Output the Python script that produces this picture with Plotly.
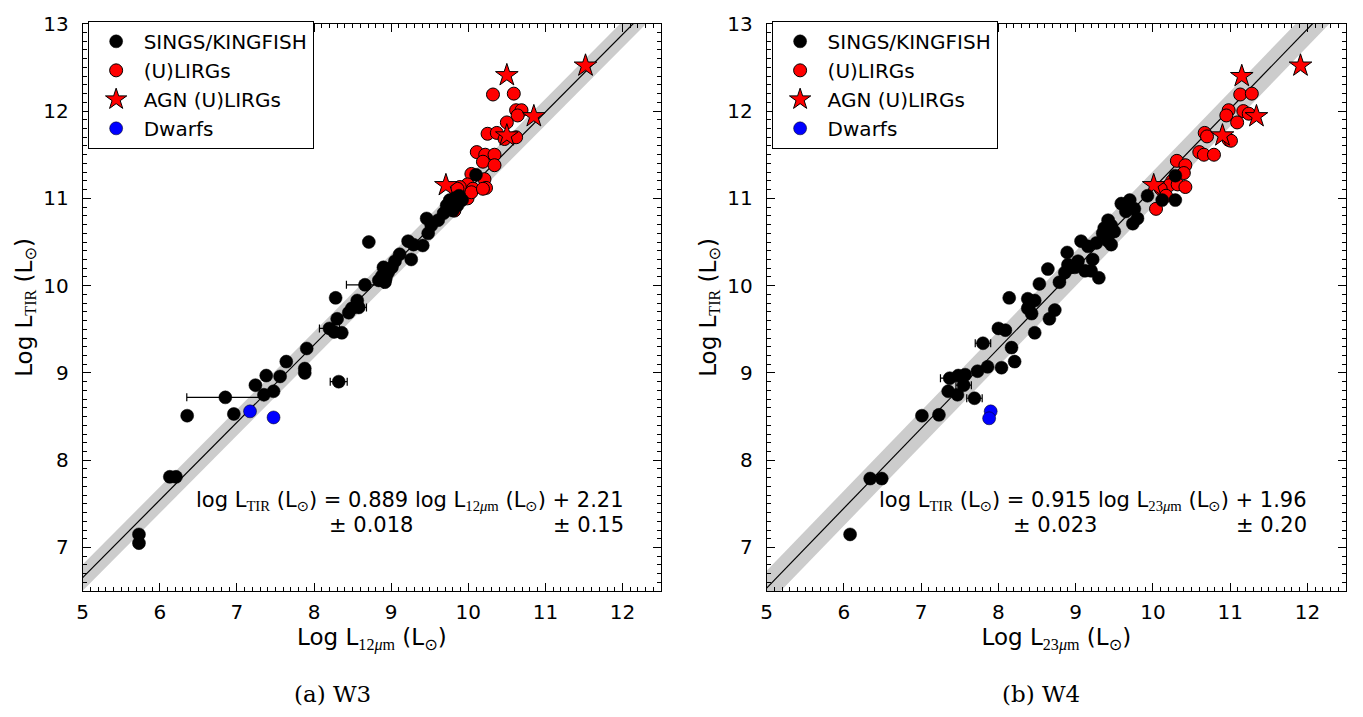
import numpy as np
import plotly.graph_objects as go

# ---------------- W3 (12 micron) panel ----------------
w3_sings_x = [5.73, 5.73, 6.13, 6.21, 6.85, 6.355, 6.96, 7.24, 7.38, 7.35, 7.475, 7.56, 7.64,
              7.88, 7.88, 7.905, 8.32, 8.20, 8.26, 8.36, 8.30, 8.45, 8.49, 8.56, 8.58, 8.28,
              8.66, 8.71, 8.90, 8.96, 8.88, 8.84, 8.92, 8.93, 9.01, 9.05, 9.11, 9.26, 9.22,
              9.29, 9.41, 9.48, 9.52, 9.46, 9.61, 9.68, 9.72, 9.76, 9.82, 9.86, 9.80, 9.88,
              9.92, 9.84, 10.10]
w3_sings_y = [7.15, 7.05, 7.81, 7.81, 8.72, 8.51, 8.53, 8.86, 8.97, 8.75, 8.79, 8.96, 9.13,
              9.05, 9.00, 9.28, 8.90, 9.51, 9.47, 9.46, 9.62, 9.69, 9.74, 9.83, 9.75, 9.86,
              10.01, 10.50, 10.21, 10.15, 10.11, 10.06, 10.04, 10.08, 10.21, 10.28, 10.36, 10.30, 10.51,
              10.47, 10.46, 10.60, 10.69, 10.77, 10.75, 10.83, 10.92, 10.98, 11.00, 10.92, 10.86, 11.03,
              10.98, 10.95, 11.27]
w3_sings_xerr = [0, 0, 0, 0, 0.50, 0.05, 0, 0, 0, 0, 0, 0, 0,
                 0, 0, 0, 0.11, 0.13, 0, 0, 0, 0, 0, 0, 0.10, 0.06,
                 0.24, 0, 0, 0, 0, 0, 0, 0, 0, 0, 0, 0, 0,
                 0, 0, 0, 0, 0, 0, 0, 0, 0, 0, 0, 0, 0,
                 0, 0, 0]
w3_lirg_x = [10.32, 10.59, 10.62, 10.69, 10.64, 10.50, 10.25, 10.37, 10.62, 10.47, 10.11, 10.22,
             10.34, 10.19, 10.34, 10.04, 10.21, 10.23, 9.99, 9.89, 10.06, 9.99, 9.82, 9.86, 10.04, 10.19]
w3_lirg_y = [12.19, 12.20, 12.01, 12.01, 11.95, 11.87, 11.74, 11.75, 11.70, 11.68, 11.53, 11.50,
             11.50, 11.42, 11.38, 11.28, 11.22, 11.12, 11.16, 11.13, 11.11, 11.00, 10.86, 11.11, 11.07, 11.11]
w3_agn_x = [10.50, 11.52, 10.85, 10.50, 9.71]
w3_agn_y = [12.41, 12.52, 11.94, 11.72, 11.15]
w3_dwarf_x = [7.17, 7.475]
w3_dwarf_y = [8.56, 8.49]
w3_slope, w3_intercept, w3_band = 0.889, 2.21, 0.15

# ---------------- W4 (23 micron) panel ----------------
w4_sings_x = [6.08, 6.34, 6.49, 7.01, 7.23, 7.35, 7.47, 7.37, 7.48, 7.57, 7.55, 7.69, 7.73,
              7.86, 7.80, 8.00, 8.04, 8.21, 8.17, 8.09, 8.14, 8.38, 8.40, 8.47, 8.43, 8.38,
              8.47, 8.53, 8.64, 8.66, 8.73, 8.79, 8.86, 8.90, 8.89, 8.94, 9.07, 9.16, 9.22,
              9.20, 9.30, 9.03, 8.99, 9.12, 9.27, 9.42, 9.46, 9.42, 9.46, 9.37, 9.35, 9.50,
              9.59, 9.70, 9.76, 9.65, 9.80, 9.74, 9.93, 10.29, 10.12, 10.29]
w4_sings_y = [7.15, 7.79, 7.79, 8.51, 8.52, 8.79, 8.75, 8.94, 8.97, 8.98, 8.86, 8.71, 9.02,
              9.07, 9.34, 9.51, 9.06, 9.13, 9.29, 9.49, 9.86, 9.85, 9.78, 9.83, 9.68, 9.74,
              9.46, 10.02, 10.19, 9.62, 9.72, 10.04, 10.15, 10.24, 10.38, 10.21, 10.51, 10.45, 10.30,
              10.17, 10.09, 10.28, 10.21, 10.17, 10.49, 10.51, 10.47, 10.75, 10.69, 10.66, 10.60, 10.62,
              10.94, 10.98, 10.88, 10.85, 10.77, 10.71, 11.03, 11.26, 10.98, 10.98]
w4_sings_xerr = [0, 0, 0, 0, 0, 0, 0, 0.12, 0, 0, 0.10, 0.10, 0,
                 0, 0.10, 0, 0, 0, 0, 0, 0, 0, 0, 0, 0, 0,
                 0, 0, 0, 0, 0, 0, 0, 0, 0, 0, 0, 0, 0,
                 0, 0, 0, 0, 0, 0, 0, 0, 0, 0, 0, 0, 0,
                 0, 0, 0, 0, 0, 0, 0, 0, 0, 0]
w4_lirg_x = [11.13, 11.28, 10.98, 10.95, 11.17, 11.24, 11.09, 10.67, 10.70, 10.98, 11.01, 10.60,
             10.66, 10.79, 10.31, 10.42, 10.40, 10.25, 10.21, 10.32, 10.42, 10.10, 10.17, 10.04]
w4_lirg_y = [12.19, 12.20, 12.01, 11.95, 12.00, 11.97, 11.87, 11.75, 11.71, 11.67, 11.66, 11.53,
             11.50, 11.50, 11.43, 11.38, 11.29, 11.20, 11.15, 11.16, 11.13, 11.11, 11.03, 10.88]
w4_agn_x = [11.15, 11.91, 11.34, 10.90, 10.01]
w4_agn_y = [12.40, 12.52, 11.94, 11.72, 11.15]
w4_dwarf_x = [7.90, 7.88]
w4_dwarf_y = [8.56, 8.48]
w4_slope, w4_intercept, w4_band = 0.915, 1.96, 0.20

x_range = [5, 12.5]
y_range = [6.5, 13]
tick_vals_x = [5, 6, 7, 8, 9, 10, 11, 12]
tick_vals_y = [7, 8, 9, 10, 11, 12, 13]

SERIF = "'Liberation Serif', 'DejaVu Serif', serif"
SANS = "DejaVu Sans"


def sub(t):
    return f"<sub><span style=\"font-family:{SERIF}\">{t}</span></sub>"


SUN = "<sub>⊙</sub>"

fig = go.Figure()


def add_panel(xa, ya, legend, sx, sy, sxe, lx, ly, ax, ay, dx, dy, slope, intercept, band):
    xs = np.linspace(x_range[0], x_range[1], 50)
    yfit = slope * xs + intercept
    fig.add_trace(go.Scatter(
        x=np.concatenate([xs, xs[::-1]]),
        y=np.concatenate([yfit + band, (yfit - band)[::-1]]),
        fill="toself", fillcolor="rgb(204,204,204)", line=dict(width=0),
        mode="lines", hoverinfo="skip", showlegend=False, xaxis=xa, yaxis=ya))
    fig.add_trace(go.Scatter(x=xs, y=yfit, mode="lines", line=dict(color="black", width=1.2),
                             showlegend=False, xaxis=xa, yaxis=ya))
    fig.add_trace(go.Scatter(
        x=lx, y=ly, mode="markers", name="(U)LIRGs", legend=legend, legendrank=2,
        legendgroup=legend + "b",
        marker=dict(symbol="circle", size=13, color="red", line=dict(color="black", width=1)),
        xaxis=xa, yaxis=ya))
    fig.add_trace(go.Scatter(
        x=ax, y=ay, mode="markers", name="AGN (U)LIRGs", legend=legend, legendrank=3,
        legendgroup=legend + "c",
        marker=dict(symbol="star", size=17, color="red", line=dict(color="black", width=1)),
        xaxis=xa, yaxis=ya))
    fig.add_trace(go.Scatter(
        x=sx, y=sy, mode="markers", name="SINGS/KINGFISH", legend=legend, legendrank=1,
        legendgroup=legend + "a",
        marker=dict(symbol="circle", size=13, color="black", line=dict(color="black", width=0.5)),
        error_x=dict(type="data", array=sxe, color="black", thickness=1.2, width=4),
        xaxis=xa, yaxis=ya))
    fig.add_trace(go.Scatter(
        x=dx, y=dy, mode="markers", name="Dwarfs", legend=legend, legendrank=4,
        legendgroup=legend + "d",
        marker=dict(symbol="circle", size=13, color="blue", line=dict(color="black", width=0.5)),
        xaxis=xa, yaxis=ya))


add_panel("x", "y", "legend", w3_sings_x, w3_sings_y, w3_sings_xerr, w3_lirg_x, w3_lirg_y,
          w3_agn_x, w3_agn_y, w3_dwarf_x, w3_dwarf_y, w3_slope, w3_intercept, w3_band)
add_panel("x2", "y2", "legend2", w4_sings_x, w4_sings_y, w4_sings_xerr, w4_lirg_x, w4_lirg_y,
          w4_agn_x, w4_agn_y, w4_dwarf_x, w4_dwarf_y, w4_slope, w4_intercept, w4_band)

W, H = 1363, 717
ydom = [(H - 589) / H, (H - 12) / H]

axis_common = dict(
    showline=True, linecolor="black", linewidth=1, mirror="allticks",
    ticks="inside", ticklen=8, tickwidth=1, tickcolor="black",
    showgrid=False, zeroline=False,
    tickfont=dict(family=SANS, size=20, color="black"),
    minor=dict(ticks="inside", ticklen=4, tickwidth=1, tickcolor="black", dtick=0.1, showgrid=False),
)
xaxis_extra = dict(ticklabelstandoff=3)
yaxis_extra = dict(ticklabelstandoff=9)

ytitle = "Log L" + sub("TIR") + " (L" + SUN + ")"
title_font = dict(family=SANS, size=23, color="black")

legend_common = dict(xanchor="left", yanchor="top", bordercolor="black", borderwidth=1,
                     bgcolor="white", font=dict(family=SANS, size=20, color="black"),
                     traceorder="grouped", tracegroupgap=0, itemwidth=45)

fig.update_layout(
    width=W, height=H,
    margin=dict(l=0, r=0, t=0, b=0),
    paper_bgcolor="white", plot_bgcolor="white",
    font=dict(family=SANS, color="black"),
    xaxis=dict(domain=[77 / W, 658 / W], range=x_range, tickvals=tick_vals_x, anchor="y",
               title=dict(text="Log L" + sub("12<i>μ</i>m") + " (L" + SUN + ")",
                          font=title_font, standoff=4), **axis_common, **xaxis_extra),
    yaxis=dict(domain=ydom, range=y_range, tickvals=tick_vals_y, anchor="x",
               title=dict(text=ytitle, font=title_font, standoff=4), **axis_common, **yaxis_extra),
    xaxis2=dict(domain=[764 / W, 1346 / W], range=x_range, tickvals=tick_vals_x, anchor="y2",
                title=dict(text="Log L" + sub("23<i>μ</i>m") + " (L" + SUN + ")",
                           font=title_font, standoff=4), **axis_common, **xaxis_extra),
    yaxis2=dict(domain=ydom, range=y_range, tickvals=tick_vals_y, anchor="x2",
                title=dict(text=ytitle, font=title_font, standoff=4), **axis_common, **yaxis_extra),
    legend=dict(x=82 / W, y=1 - 9 / H, **legend_common),
    legend2=dict(x=769 / W, y=1 - 9 / H, **legend_common),
    showlegend=True,
)

ann_font = dict(family=SANS, size=21, color="black")


def eq_annotations(slope, intercept, wl, s_err, i_err, xr, xl2):
    txt = ("log L" + sub("TIR") + " (L" + SUN + ") = " + f"{slope:.3f}" + " log L" + sub(wl)
           + " (L" + SUN + ") + " + f"{intercept:.2f}")
    fig.add_annotation(text=txt, xref="paper", yref="paper", x=xr / W, y=1 - 497 / H,
                       xanchor="right", yanchor="middle", showarrow=False, font=ann_font)
    fig.add_annotation(text="± " + s_err, xref="paper", yref="paper", x=xl2 / W, y=1 - 522 / H,
                       xanchor="left", yanchor="middle", showarrow=False, font=ann_font)
    fig.add_annotation(text="± " + i_err, xref="paper", yref="paper", x=xr / W, y=1 - 522 / H,
                       xanchor="right", yanchor="middle", showarrow=False, font=ann_font)


eq_annotations(w3_slope, w3_intercept, "12<i>μ</i>m", "0.018", "0.15", 623, 322)
eq_annotations(w4_slope, w4_intercept, "23<i>μ</i>m", "0.023", "0.20", 1309, 1009)

for txt, xc in [("(a) W3", 328), ("(b) W4", 1040)]:
    fig.add_annotation(text=txt, xref="paper", yref="paper", x=xc / W, y=1 - 694 / H,
                       xanchor="center", yanchor="middle", showarrow=False,
                       font=dict(family="DejaVu Serif", size=23, color="black"))

fig.write_html("out.html")
